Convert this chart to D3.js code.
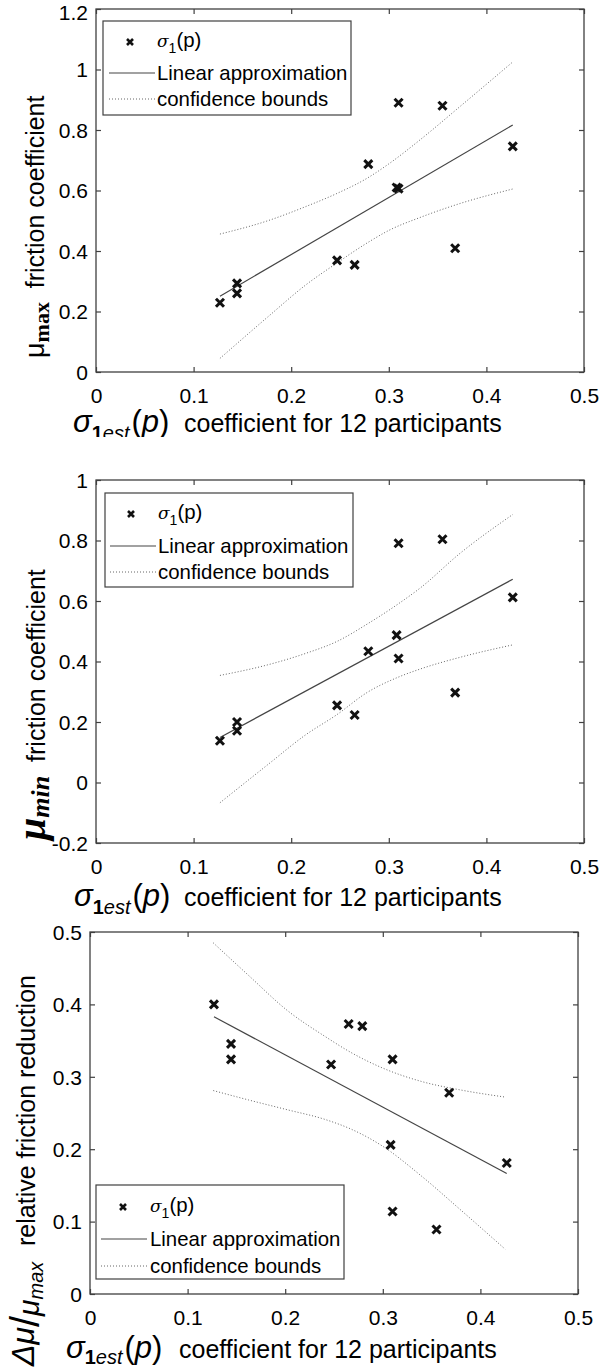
<!DOCTYPE html>
<html><head><meta charset="utf-8">
<script src="https://cdn.jsdelivr.net/npm/d3@7"></script>
<style>
body{margin:0;background:#fff;}
svg text{font-family:"Liberation Sans",Arial,sans-serif;fill:#000;}
</style></head><body>
<svg id="c" width="601" height="1371"></svg>
<script>
// ---- data ----
const xTicks = [0, 0.1, 0.2, 0.3, 0.4, 0.5];
const sigma  = [0.127, 0.1445, 0.1445, 0.247, 0.265, 0.279, 0.308, 0.310, 0.310, 0.355, 0.368, 0.427];
const muMax  = [0.229, 0.293, 0.260, 0.369, 0.354, 0.687, 0.610, 0.606, 0.890, 0.880, 0.409, 0.746];
const muMin  = [0.138, 0.200, 0.171, 0.255, 0.223, 0.434, 0.487, 0.410, 0.791, 0.804, 0.297, 0.612];
const relRed = [0.400, 0.324, 0.3455, 0.317, 0.373, 0.370, 0.206, 0.324, 0.114, 0.089, 0.278, 0.181];

const fitX = [0.127, 0.427];
const fitMax = [0.2505, 0.8165];
const fitMin = [0.149, 0.672];
const fitRel = [0.383, 0.1665];

const boundXMax = [0.127, 0.176, 0.215, 0.2467, 0.278, 0.300, 0.333, 0.372, 0.427];
const upperMax  = [0.456, 0.500, 0.547, 0.590, 0.641, 0.688, 0.770, 0.875, 1.025];
const lowerMax  = [0.045, 0.182, 0.288, 0.360, 0.427, 0.468, 0.512, 0.556, 0.605];

const boundXMin = [0.127, 0.176, 0.215, 0.2467, 0.278, 0.3095, 0.333, 0.372, 0.427];
const upperMin  = [0.354, 0.389, 0.427, 0.466, 0.524, 0.590, 0.645, 0.755, 0.886];
const lowerMin  = [-0.067, 0.059, 0.158, 0.224, 0.298, 0.348, 0.376, 0.413, 0.455];

const boundXRel = [0.1263, 0.1625, 0.2018, 0.2411, 0.2687, 0.300, 0.3395, 0.379, 0.4253];
const upperRel  = [0.485, 0.440, 0.392, 0.3555, 0.3326, 0.312, 0.2936, 0.282, 0.272];
const lowerRel  = [0.281, 0.268, 0.2546, 0.241, 0.227, 0.204, 0.163, 0.117, 0.062];

const yTicksMax = [0, 0.2, 0.4, 0.6, 0.8, 1, 1.2];
const yTicksMin = [-0.2, 0, 0.2, 0.4, 0.6, 0.8, 1];
const yTicksRel = [0, 0.1, 0.2, 0.3, 0.4, 0.5];

const legendLabels = ["σ1(p)", "Linear approximation", "confidence bounds"];
const xLabelText = "coefficient for 12 participants";

// ---- drawing ----
const svg = d3.select("#c");
const AX = "#404040";
const TICKFS = 21, LEGFS = 20.4, LABFS = 25;
const fmt = d => String(+d.toFixed(1));

function drawPanel(c) {
  const x = d3.scaleLinear().domain([0, 0.5]).range([c.left, c.right]);
  const y = d3.scaleLinear().domain(c.yDomain).range([c.bottom, c.top]);
  const g = svg.append("g");

  const mk = (axis, tr, ticks, labels) => {
    const a = g.append("g").attr("transform", tr)
      .call(axis.tickValues(ticks).tickSizeInner(-5).tickSizeOuter(0)
        .tickPadding(0).tickFormat(labels ? fmt : ""));
    a.select(".domain").remove();
    a.selectAll(".tick line").attr("stroke", AX).attr("stroke-width", 1.2);
    a.selectAll(".tick text").attr("font-size", TICKFS).attr("fill", "#000")
      .attr("font-family", '"Liberation Sans",Arial,sans-serif');
    return a;
  };
  mk(d3.axisBottom(x), `translate(0,${c.bottom})`, xTicks, true)
    .call(a => a.selectAll(".tick text").attr("dy", 0).attr("y", 31));
  mk(d3.axisTop(x), `translate(0,${c.top})`, xTicks, false);
  mk(d3.axisLeft(y), `translate(${c.left},0)`, c.yTicks, true)
    .call(a => a.selectAll(".tick text").attr("x", -8).attr("dy", "0.35em")
      .attr("y", d => (y(d) < 12 ? 12 - y(d) : 0)));
  mk(d3.axisRight(y), `translate(${c.right},0)`, c.yTicks, false);
  g.append("rect").attr("x", c.left).attr("y", c.top)
    .attr("width", c.right - c.left).attr("height", c.bottom - c.top)
    .attr("fill", "none").attr("stroke", AX).attr("stroke-width", 1.3);

  // confidence bounds
  const line = d3.line().x(d => x(d[0])).y(d => y(d[1])).curve(d3.curveMonotoneX);
  [c.upper, c.lower].forEach(arr => {
    g.append("path").datum(c.bX.map((v, i) => [v, arr[i]]))
      .attr("d", line).attr("fill", "none").attr("stroke", "#666")
      .attr("stroke-width", 1).attr("stroke-dasharray", "1,2");
  });
  // fit
  g.append("path").datum(fitX.map((v, i) => [v, c.fit[i]]))
    .attr("d", d3.line().x(d => x(d[0])).y(d => y(d[1])))
    .attr("fill", "none").attr("stroke", "#444").attr("stroke-width", 1.2);
  // markers
  const cross = "M-4,-4L4,4M-4,4L4,-4";
  g.selectAll(".pt").data(sigma.map((v, i) => [v, c.yVals[i]])).join("path")
    .attr("transform", d => `translate(${x(d[0])},${y(d[1])})`)
    .attr("d", cross).attr("stroke", "#111").attr("stroke-width", 3).attr("fill", "none");

  // legend
  const L = c.legend;
  g.append("rect").attr("x", L.x0).attr("y", L.y0).attr("width", L.x1 - L.x0).attr("height", L.y1 - L.y0)
    .attr("fill", "#fff").attr("stroke", AX).attr("stroke-width", 1.2);
  g.append("path").attr("transform", `translate(${L.markX},${L.rows[0]})`).attr("d", "M-3,-3L3,3M-3,3L3,-3")
    .attr("stroke", "#111").attr("stroke-width", 2.6);
  const t0 = g.append("text").attr("x", L.textX).attr("y", L.rows[0] + 5).attr("font-size", LEGFS);
  t0.append("tspan").text(legendLabels[0].slice(0, 1)).attr("font-style", "italic").attr("font-family", '"DejaVu Serif",serif').attr("font-size", 17);
  t0.append("tspan").text(legendLabels[0].slice(1, 2)).attr("font-size", 14).attr("dy", 6);
  t0.append("tspan").text(legendLabels[0].slice(2)).attr("dy", -6);
  g.append("line").attr("x1", L.lineX0).attr("x2", L.lineX1).attr("y1", L.rows[1]).attr("y2", L.rows[1])
    .attr("stroke", "#444").attr("stroke-width", 1.2);
  g.append("text").attr("x", L.textX).attr("y", L.rows[1] + 7).attr("font-size", LEGFS).text(legendLabels[1]);
  g.append("line").attr("x1", L.lineX0).attr("x2", L.lineX1).attr("y1", L.rows[2]).attr("y2", L.rows[2])
    .attr("stroke", "#666").attr("stroke-width", 1).attr("stroke-dasharray", "1,2");
  g.append("text").attr("x", L.textX).attr("y", L.rows[2] + 7).attr("font-size", LEGFS).text(legendLabels[2]);

  // x label
  const xg = g.append("g");
  if (c.clipY) {
    const id = "clip" + c.top;
    svg.append("clipPath").attr("id", id).append("rect").attr("x", 0).attr("y", 0).attr("width", 601).attr("height", c.clipY);
    xg.attr("clip-path", `url(#${id})`);
  }
  const sx = xg.append("text").attr("x", c.xl.sx).attr("y", c.xl.y + 9)
    .attr("font-family", '"Liberation Serif",serif').attr("font-size", 31);
  sx.append("tspan").text("σ").attr("font-style", "italic");
  sx.append("tspan").text("1").attr("font-weight", "bold").attr("font-size", 20).attr("dy", c.xl.sub);
  sx.append("tspan").text("est").attr("font-style", "italic").attr("font-size", 20);
  sx.append("tspan").text("(").attr("dy", -c.xl.sub).attr("dx", 2);
  sx.append("tspan").text("p").attr("font-style", "italic");
  sx.append("tspan").text(")");
  xg.append("text").attr("x", c.xl.cx).attr("y", c.xl.y + 9).attr("font-size", LABFS).text(xLabelText);

  c.ylab(g);
}

drawPanel({
  left: 96, right: 584, top: 9, bottom: 372, yDomain: [0, 1.2], yTicks: yTicksMax,
  yVals: muMax, fit: fitMax, bX: boundXMax, upper: upperMax, lower: lowerMax,
  legend: {x0: 103, x1: 351, y0: 21, y1: 115, rows: [42, 73, 99], markX: 130, textX: 157, lineX0: 109, lineX1: 155},
  xl: {sx: 73, cx: 184, y: 423, sub: 8}, clipY: 437,
  ylab: g => {
    const t = g.append("text").attr("transform", "translate(44,358) rotate(-90)").attr("font-size", LABFS);
    t.append("tspan").text("μ").attr("font-size", 27);
    t.append("tspan").text("max").attr("font-family", '"Liberation Serif",serif').attr("font-weight", "bold").attr("font-size", 22).attr("dy", 5);
    t.append("tspan").text("\u00a0\u00a0friction coefficient").attr("dy", -5);
  }
});

drawPanel({
  left: 96, right: 584, top: 480, bottom: 843, yDomain: [-0.2, 1], yTicks: yTicksMin,
  yVals: muMin, fit: fitMin, bX: boundXMin, upper: upperMin, lower: lowerMin,
  legend: {x0: 105, x1: 353, y0: 493, y1: 587, rows: [514, 546, 572], markX: 131, textX: 158, lineX0: 110, lineX1: 156},
  xl: {sx: 74, cx: 184, y: 897, sub: 8},
  ylab: g => {
    const t = g.append("text").attr("transform", "translate(45,840) rotate(-90)").attr("font-size", LABFS);
    t.append("tspan").text("μ").attr("font-family", '"Liberation Serif",serif').attr("font-weight", "bold").attr("font-style", "italic").attr("font-size", 40);
    t.append("tspan").text("min").attr("font-family", '"Liberation Serif",serif').attr("font-weight", "bold").attr("font-style", "italic").attr("font-size", 26).attr("dy", 4);
    t.append("tspan").text("\u00a0\u00a0friction coefficient").attr("dy", -4);
  }
});

drawPanel({
  left: 90, right: 578, top: 932, bottom: 1294, yDomain: [0, 0.5], yTicks: yTicksRel,
  yVals: relRed, fit: fitRel, bX: boundXRel, upper: upperRel, lower: lowerRel,
  legend: {x0: 96, x1: 344, y0: 1185, y1: 1279, rows: [1207, 1239, 1266], markX: 123, textX: 150, lineX0: 101, lineX1: 147},
  xl: {sx: 66, cx: 179, y: 1349, sub: 6},
  ylab: g => {
    const t = g.append("text").attr("transform", "translate(37,1366) rotate(-90)")
      .attr("font-family", '"Liberation Serif",serif').attr("font-style", "italic");
    t.append("tspan").text("Δμ").attr("font-size", 32).attr("dy", -3);
    t.append("tspan").text("/").attr("font-size", 40).attr("dy", 5).attr("font-style", "normal");
    t.append("tspan").text("μ").attr("font-size", 30);
    t.append("tspan").text("max").attr("font-size", 20).attr("dy", 4);
    g.append("text").attr("transform", "translate(35,1246) rotate(-90)").attr("font-size", LABFS)
      .text("relative friction reduction");
  }
});
</script>
</body></html>
